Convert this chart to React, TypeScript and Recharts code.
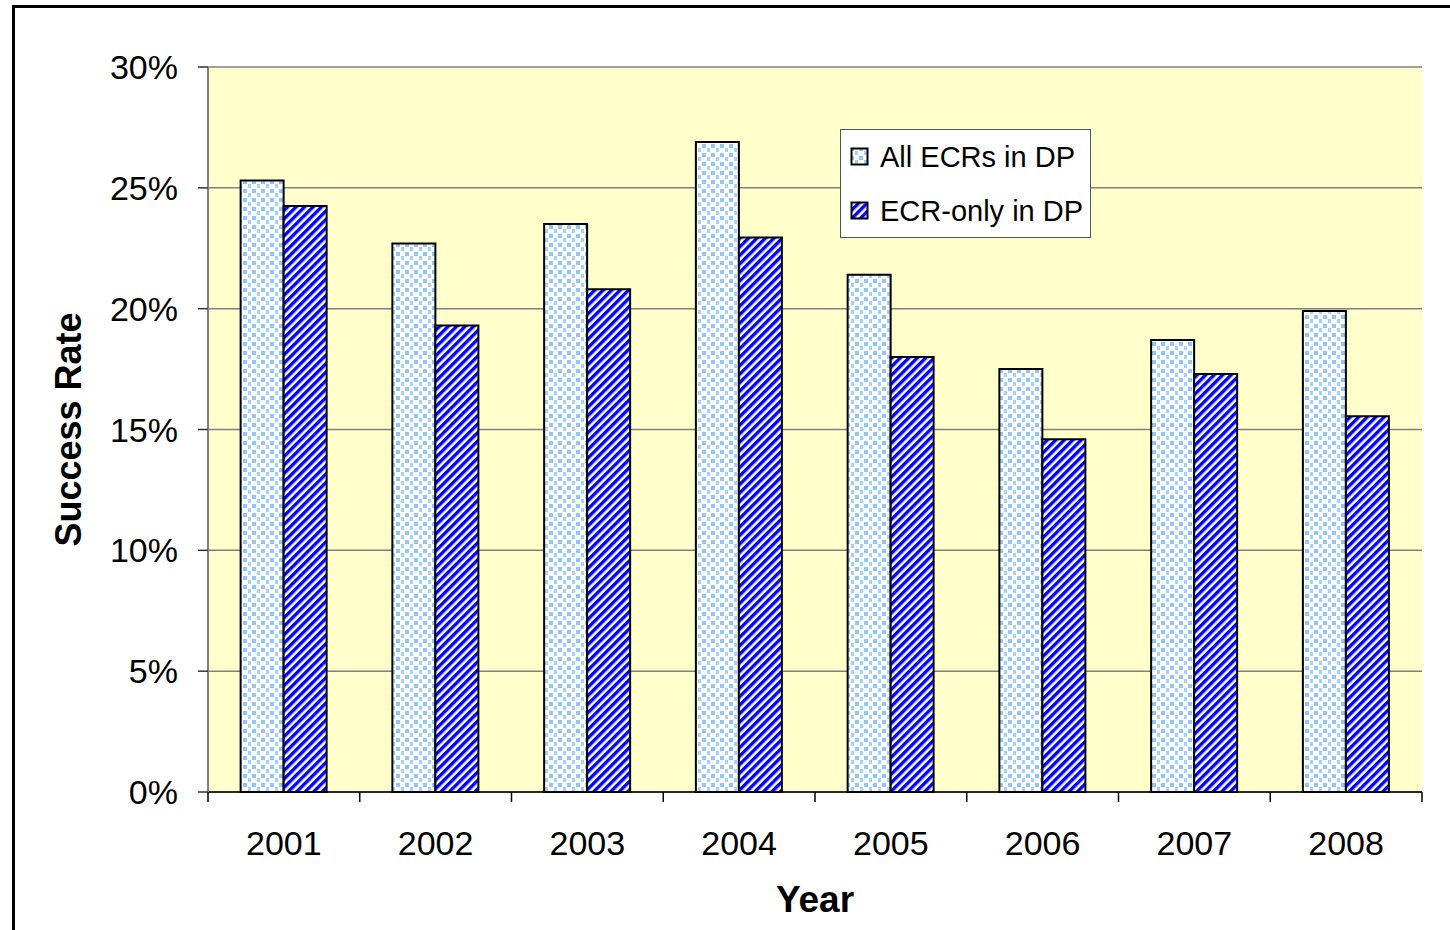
import React from 'react';
import {
  BarChart, Bar, XAxis, YAxis, CartesianGrid, Label
} from 'recharts';

// values (fractions, 0..0.30)
const years = ['2001', '2002', '2003', '2004', '2005', '2006', '2007', '2008'];
const allEcrs = [0.253, 0.227, 0.235, 0.269, 0.214, 0.175, 0.187, 0.199];
const ecrOnly = [0.2425, 0.193, 0.208, 0.2295, 0.180, 0.146, 0.173, 0.1555];
const yTicks = [0, 0.05, 0.1, 0.15, 0.2, 0.25, 0.3];
const seriesNames = ['All ECRs in DP', 'ECR-only in DP'];

const data = years.map((year, i) => ({ year, all: allEcrs[i], only: ecrOnly[i] }));

const W = 1450;
const H = 930;
const FONT = '"Liberation Sans", Arial, sans-serif';

const pct = (v: number) => `${Math.round(v * 100)}%`;

function YearTick(props: any) {
  const { x, y, payload, index } = props;
  const half = payload?.offset ?? 76;
  return (
    <g>
      <line x1={x - half} x2={x - half} y1={y} y2={y + 10} stroke="#000" strokeWidth={1.5} />
      {index === years.length - 1 && (
        <line x1={x + half} x2={x + half} y1={y} y2={y + 10} stroke="#000" strokeWidth={1.5} />
      )}
      <text x={x} y={y + 63} textAnchor="middle" fontSize={34} fontFamily={FONT} fill="#000">
        {payload.value}
      </text>
    </g>
  );
}

// legend drawn as an overlay so it does not take space from the plot
function LegendBox() {
  const items = [
    { name: seriesNames[0], fill: 'url(#dots)' },
    { name: seriesNames[1], fill: 'url(#stripes)' },
  ];
  return (
    <div style={{
      position: 'absolute', left: 840, top: 129,
      width: 251, height: 109, background: '#fff', border: '1px solid #555',
      fontFamily: FONT, fontSize: 29, color: '#000', boxSizing: 'border-box',
      paddingLeft: 9,
    }}>
      {items.map((it) => (
        <div key={it.name} style={{ display: 'flex', alignItems: 'center', height: 54 }}>
          <svg width={20} height={20} style={{ marginRight: 10 }}>
            <rect x={1.5} y={1.5} width={16} height={16} fill={it.fill} stroke="#000" strokeWidth={2} />
          </svg>
          <span>{it.name}</span>
        </div>
      ))}
    </div>
  );
}

export default function App() {
  return (
    <div style={{ position: 'absolute', left: 0, top: 0, width: W, height: H, overflow: 'hidden', background: '#fff' }}>
      <div style={{
        position: 'absolute', left: 12, top: 5, width: 1500, height: 1000,
        borderLeft: '3px solid #000', borderTop: '3px solid #000',
      }} />
      <div style={{ position: 'absolute', left: 0, top: 0 }}>
        <BarChart
          width={W}
          height={H}
          data={data}
          margin={{ top: 67, right: 28, left: 0, bottom: 0 }}
          barCategoryGap="21.5%"
          barGap={0}
        >
          <defs>
            <pattern id="dots" width={9} height={9} patternUnits="userSpaceOnUse">
              <rect width={9} height={9} fill="#fff" />
              <rect x={0} y={0} width={4} height={4} fill="#8FC6FF" />
              <rect x={5} y={4} width={3} height={4} fill="#A3D0FF" />
            </pattern>
            <pattern id="stripes" width={6} height={6} patternUnits="userSpaceOnUse" patternTransform="rotate(45)">
              <rect width={6} height={6} fill="#fff" />
              <rect width={3.4} height={6} fill="#0000FF" />
            </pattern>
          </defs>
          <CartesianGrid vertical={false} stroke="#808080" strokeWidth={1.5} fill="#FFFFCC" />
          <XAxis
            dataKey="year"
            height={138}
            axisLine={{ stroke: '#000', strokeWidth: 1.5 }}
            tickLine={false}
            tickSize={0}
            tickMargin={0}
            tick={<YearTick />}
            interval={0}
          >
            <Label
              content={({ viewBox }: any) => (
                <text x={viewBox.x + viewBox.width / 2} y={viewBox.y + 120} textAnchor="middle"
                  fontSize={37} fontWeight="bold" fontFamily={FONT} fill="#000">Year</text>
              )}
            />
          </XAxis>
          <YAxis
            width={208}
            domain={[0, 0.3]}
            ticks={yTicks}
            tickFormatter={pct}
            axisLine={{ stroke: '#808080', strokeWidth: 2 }}
            tickLine={{ stroke: '#333', strokeWidth: 1.5 }}
            tickSize={10}
            tickMargin={20}
            tick={{ fontSize: 34, fontFamily: FONT, fill: '#000' }}
          >
            <Label
              content={({ viewBox }: any) => {
                const cx = 68;
                const cy = viewBox.y + viewBox.height / 2;
                return (
                  <text x={cx} y={cy} transform={`rotate(-90 ${cx} ${cy})`} textAnchor="middle"
                    dominantBaseline="central" fontSize={36} fontWeight="bold" fontFamily={FONT} fill="#000">
                    Success Rate
                  </text>
                );
              }}
            />
          </YAxis>
          <YAxis yAxisId="edge" orientation="right" width={0} tick={false} tickLine={false}
            axisLine={{ stroke: '#808080', strokeWidth: 2 }} domain={[0, 0.3]} />
          <Bar dataKey="all" name={seriesNames[0]} fill="url(#dots)" stroke="#000" strokeWidth={2} isAnimationActive={false} />
          <Bar dataKey="only" name={seriesNames[1]} fill="url(#stripes)" stroke="#000" strokeWidth={2} isAnimationActive={false} />
        </BarChart>
      </div>
      <LegendBox />
    </div>
  );
}
